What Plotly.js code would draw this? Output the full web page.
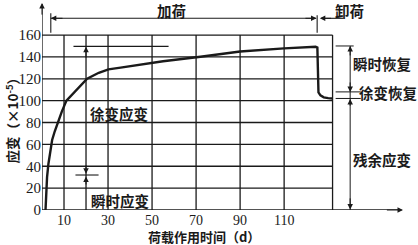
<!DOCTYPE html>
<html>
<head>
<meta charset="utf-8">
<script src="https://cdn.plot.ly/plotly-3.0.1.min.js"></script>
<style>html,body{margin:0;padding:0;background:#fff;}#chart{width:418px;height:245px;}</style>
</head>
<body>
<div id="chart"></div>
<script>
// Data
var curveX = [1.6, 1.8, 2.3, 2.9, 3.9, 4.6, 5.8, 7.2, 9, 11.1, 14.5, 17.5, 20.5, 25.8, 30.2, 35.7, 45, 55, 72, 90, 110, 124.3, 125.1, 125.2, 125.3, 125.6, 126.5, 128, 130, 132];
var curveY = [0, 15, 30, 42, 55, 64, 72, 80, 90, 100, 107, 114, 120, 125.5, 128.6, 130.2, 133, 136, 140.2, 145, 147.8, 149.3, 148.5, 130, 112, 107.5, 104.8, 103, 102.3, 102];
var xTickVals = [10, 30, 50, 70, 90, 110];
var yTickVals = [0, 20, 40, 60, 80, 100, 120, 140, 160];
var gridX = [10, 20, 30, 50, 70, 90, 110, 132];
var gridY = [20, 40, 60, 80, 100, 120, 140, 160];
var loadStart = 4, unloadAt = 125, unloadEnd = 137;
var peakStrain = 150, afterDrop = 108, residual = 102;

var INK = '#1a1a1a';
var cjk = '"Noto Sans CJK SC", "Noto Sans CJK JP", sans-serif';
var serif = '"Liberation Serif", "DejaVu Serif", serif';
var xMax = 164, yMax = 189.3, xBox = 132, yBox = 160;

var shapes = [];
function seg(x0, y0, x1, y1, w) {
  shapes.push({type: 'line', xref: 'x', yref: 'y', x0: x0, y0: y0, x1: x1, y1: y1,
    line: {color: INK, width: w || 1.2}});
}
gridX.forEach(function (g) { seg(g, 0, g, yBox, 1.3); });
gridY.forEach(function (g) { seg(0, g, xBox, g, 1.3); });
// axes
seg(0, 0, 0, yMax - 1, 1.3);
seg(0, 0, xMax - 1, 0, 1.3);
// loading bracket
seg(loadStart, 162, loadStart, 180, 1.1);
seg(loadStart, 175.3, unloadAt - 0.5, 175.3, 1.1);
seg(unloadAt, 162, unloadAt, 178, 1.1);
seg(unloadAt + 2, 175.3, unloadEnd, 175.3, 1.1);
// right side recovery marks
seg(133.4, peakStrain, 141.6, peakStrain, 1);
seg(133.4, afterDrop, 144.8, afterDrop, 1);
seg(133.4, residual, 144.8, residual, 1);
seg(140, 0, 140, peakStrain, 1);
// interior marks
seg(14.3, 149.6, 57.5, 149.6, 1.1);
seg(15.2, 32, 25.7, 32, 1.1);

var ann = [];
function arrow(x, y, ax, ay) {
  ann.push({x: x, y: y, ax: ax, ay: ay, xref: 'x', yref: 'y', axref: 'x', ayref: 'y',
    showarrow: true, arrowhead: 2, arrowsize: 1.1, arrowwidth: 1, arrowcolor: INK, text: ''});
}
arrow(0, yMax, 0, yMax - 12);
arrow(xMax, 0, xMax - 8, 0);
arrow(loadStart, 175.3, loadStart + 6, 175.3);
arrow(unloadAt - 0.3, 175.3, unloadAt - 6, 175.3);
arrow(unloadAt + 1.2, 175.3, unloadAt + 7, 175.3);
arrow(140, peakStrain, 140, peakStrain - 10);
arrow(140, afterDrop, 140, afterDrop + 10);
arrow(140, 0.5, 140, 12);
arrow(140, residual - 0.5, 140, residual - 8);
arrow(20, 149.2, 20, 138);
arrow(20, 33.2, 20, 42);
arrow(20, 30.6, 20, 22);

function label(t, x, y, anchor) {
  ann.push({text: t, x: x, y: y, xref: 'x', yref: 'y', showarrow: false, xanchor: anchor || 'center',
    yanchor: 'middle', font: {family: cjk, size: 14.5, color: INK, weight: 'bold'}});
}
label('加荷', 58.9, 182.9);
label('卸荷', 139.8, 182.9);
label('瞬时恢复', 154.8, 134.4);
label('徐变恢复', 157.3, 107.2);
label('残余应变', 154.6, 46.6);
label('徐变应变', 35, 88.7);
label('瞬时应变', 35.5, 9.1);

ann.push({text: '应变（×10<sup>-5</sup>）', xref: 'paper', yref: 'paper', x: -0.083, y: 0.447,
  textangle: -90, showarrow: false, xanchor: 'center', yanchor: 'middle',
  font: {family: cjk, size: 13.5, color: INK, weight: 'bold'}});
ann.push({text: '荷载作用时间（d）', xref: 'paper', yref: 'paper', x: 0.45, y: -0.128,
  showarrow: false, xanchor: 'center', yanchor: 'middle', borderpad: 0,
  font: {family: cjk, size: 13, color: INK, weight: 'bold'}});

var trace = {x: curveX, y: curveY, type: 'scatter', mode: 'lines',
  line: {color: INK, width: 2.4}, hoverinfo: 'skip'};

var layout = {
  width: 418, height: 245,
  margin: {l: 42, r: 15, t: 3, b: 35, pad: 0},
  paper_bgcolor: '#fff', plot_bgcolor: '#fff',
  showlegend: false,
  xaxis: {range: [0, xMax], showgrid: false, zeroline: false, showline: false,
    tickvals: xTickVals, ticktext: xTickVals.map(String), ticks: '',
    tickfont: {family: serif, size: 14, color: INK}, fixedrange: true},
  yaxis: {range: [0, yMax], showgrid: false, zeroline: false, showline: false,
    tickvals: yTickVals, ticktext: yTickVals.map(String), ticks: '',
    tickfont: {family: serif, size: 15, color: INK}, fixedrange: true},
  shapes: shapes,
  annotations: ann
};
Plotly.newPlot('chart', [trace], layout, {displayModeBar: false, staticPlot: true});
</script>
</body>
</html>
